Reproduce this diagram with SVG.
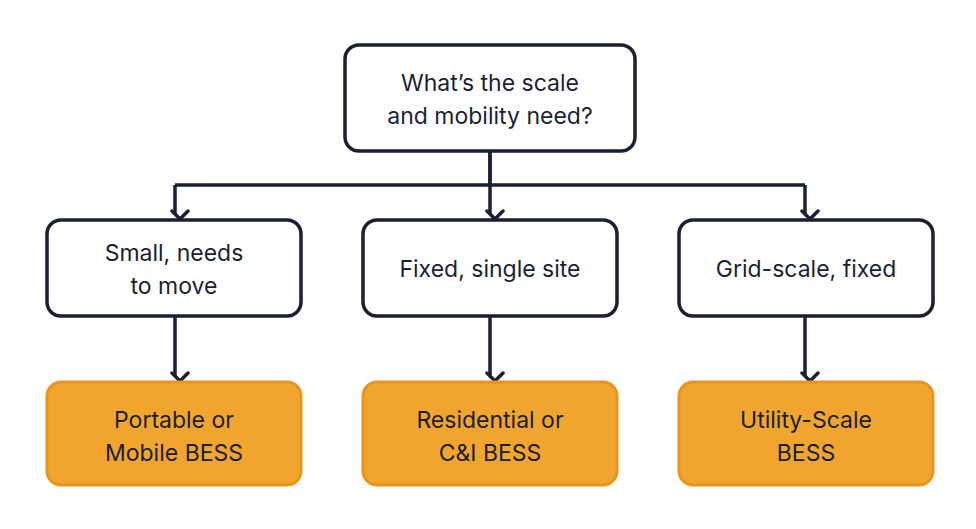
<svg xmlns="http://www.w3.org/2000/svg" width="976" height="529" viewBox="0 0 976 529">
<defs>
<marker id="ah" viewBox="0 0 20 20" refX="10" refY="15" markerWidth="20" markerHeight="20" markerUnits="userSpaceOnUse" orient="auto-start-reverse">
<path d="M2 7 L10 15 L18 7" fill="none" stroke="#1a1f36" stroke-width="3.5" stroke-linecap="round" stroke-linejoin="round" transform="rotate(-90 10 10)"/>
</marker>
<style>
.q{fill:#fff;stroke:#1a1f36;stroke-width:3.5}
.r{fill:#F2A52E;stroke:#E8951E;stroke-width:3}
text{font-family:Inter,"Liberation Sans",sans-serif;font-size:23px;fill:#1a1f36;text-anchor:middle}
.c{fill:none;stroke:#1a1f36;stroke-width:3.5}
</style>
</defs>
<rect width="976" height="529" fill="#fff"/>
<g id="connectors">
<path class="c" d="M490 151 V185 M175 185 H805"/>
<path class="c" d="M175 185 V214" marker-end="url(#ah)"/>
<path class="c" d="M490 151 V214" marker-end="url(#ah)"/>
<path class="c" d="M805 185 V214" marker-end="url(#ah)"/>
<path class="c" d="M175 316 V376" marker-end="url(#ah)"/>
<path class="c" d="M490 316 V376" marker-end="url(#ah)"/>
<path class="c" d="M805 316 V376" marker-end="url(#ah)"/>
</g>
<g id="root"><rect class="q" x="345" y="45" width="290" height="106" rx="14"/>
<text x="490" y="91">What’s the scale</text><text x="490" y="124">and mobility need?</text></g>
<g id="small"><rect class="q" x="47" y="220" width="254" height="96" rx="14"/>
<text x="174" y="261">Small, needs</text><text x="174" y="294">to move</text></g>
<g id="fixed"><rect class="q" x="363" y="220" width="254" height="96" rx="14"/>
<text x="490" y="277">Fixed, single site</text></g>
<g id="grid"><rect class="q" x="679" y="220" width="254" height="96" rx="14"/>
<text x="806" y="277">Grid-scale, fixed</text></g>
<g id="portable"><rect class="r" x="47" y="382" width="254" height="103" rx="14"/>
<text x="174" y="428">Portable or</text><text x="174" y="461">Mobile BESS</text></g>
<g id="residential"><rect class="r" x="363" y="382" width="254" height="103" rx="14"/>
<text x="490" y="428">Residential or</text><text x="490" y="461">C&amp;I BESS</text></g>
<g id="utility"><rect class="r" x="679" y="382" width="254" height="103" rx="14"/>
<text x="806" y="428">Utility-Scale</text><text x="806" y="461">BESS</text></g>
</svg>
